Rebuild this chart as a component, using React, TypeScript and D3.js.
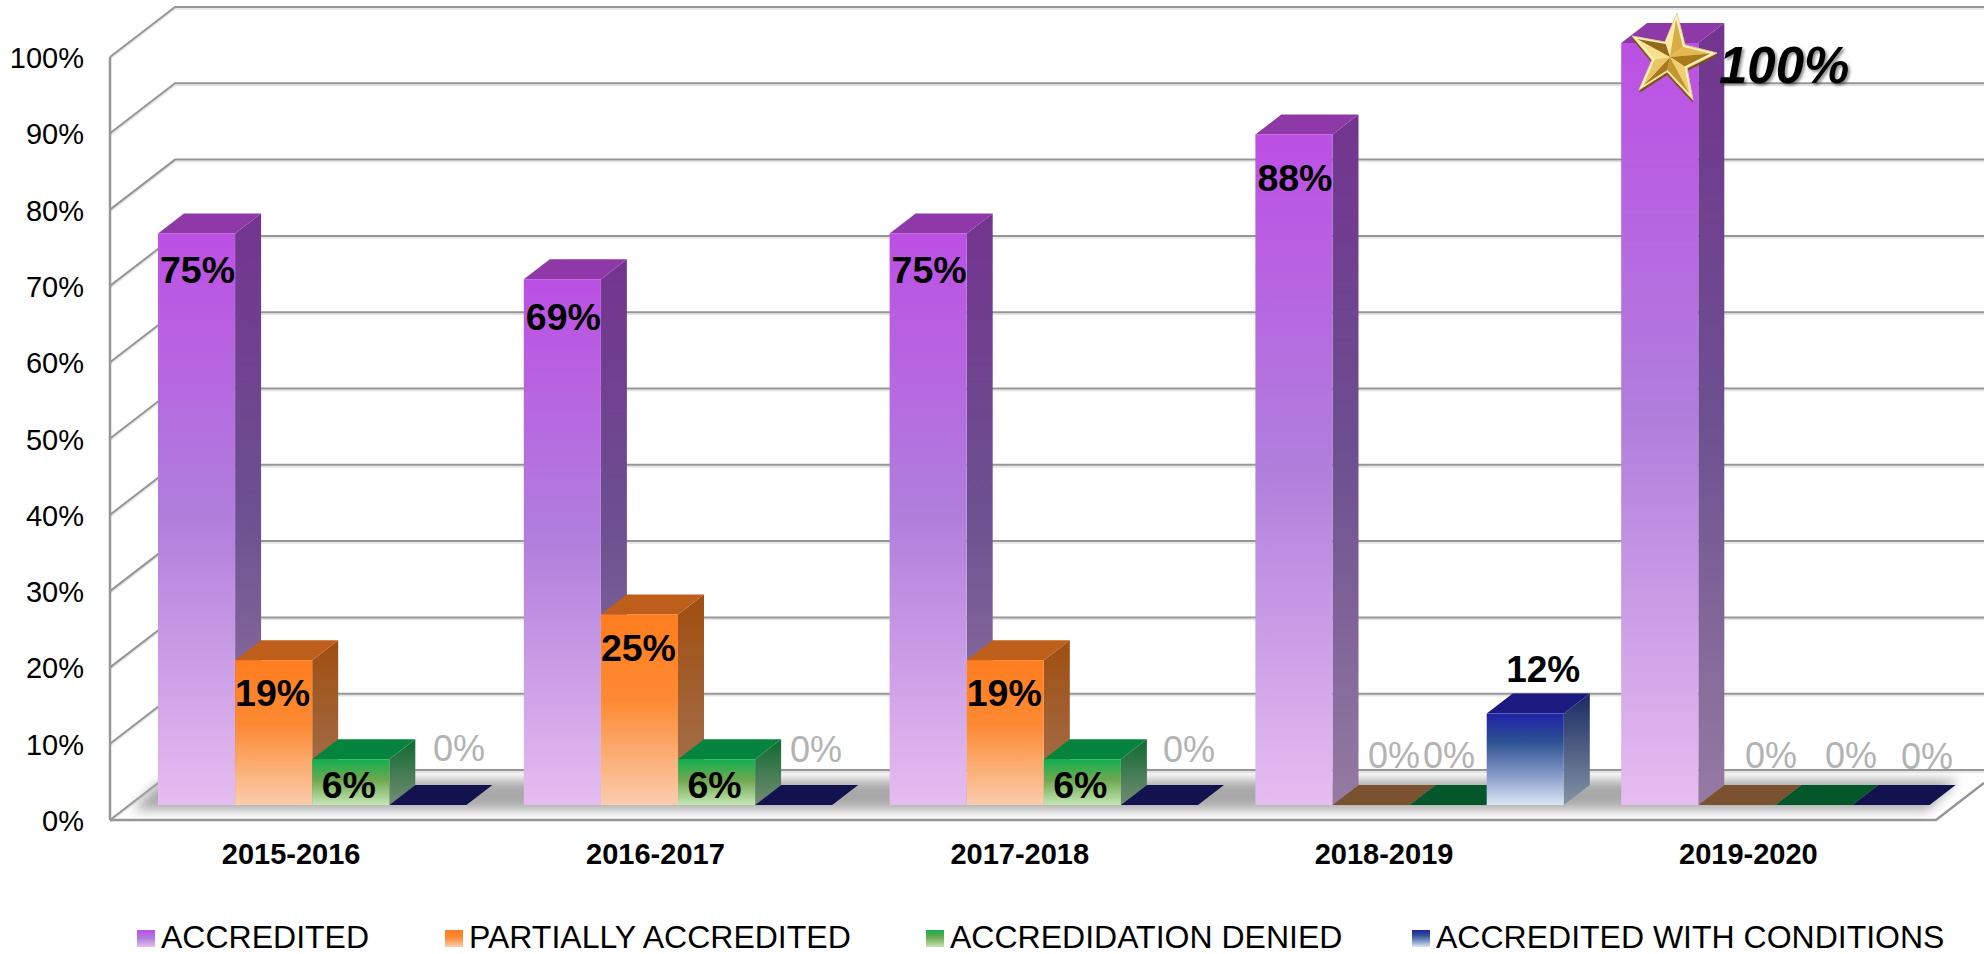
import React from "react";
import * as d3 from "d3";

const categories = ["2015-2016", "2016-2017", "2017-2018", "2018-2019", "2019-2020"];
const seriesNames = ["ACCREDITED", "PARTIALLY ACCREDITED", "ACCREDIDATION DENIED", "ACCREDITED WITH CONDITIONS"];
const accredited = [75, 69, 75, 88, 100];
const partiallyAccredited = [19, 25, 19, 0, 0];
const accreditationDenied = [6, 6, 6, 0, 0];
const accreditedWithConditions = [0, 0, 0, 12, 0];
const seriesValues = [accredited, partiallyAccredited, accreditationDenied, accreditedWithConditions];
const yTicks = [0, 10, 20, 30, 40, 50, 60, 70, 80, 90, 100];

type Tone = { id: string; front: [number, string][]; side: [number, string][]; top: string; flat: string };
const tones: Tone[] = [
  { id: "pur", front: [[0, "#bc50e4"], [0.5, "#b07fdc"], [1, "#e5bdf0"]], side: [[0, "#73348f"], [0.5, "#6c5090"], [1, "#957aa2"]], top: "#8f39a9", flat: "#8f39a9" },
  { id: "ora", front: [[0, "#ff7d1f"], [0.45, "#fd8a33"], [1, "#facdae"]], side: [[0, "#a04e0f"], [1, "#a37557"]], top: "#bd5f1b", flat: "#7a5230" },
  { id: "gre", front: [[0, "#10b050"], [0.45, "#6fa850"], [1, "#c4e6b4"]], side: [[0, "#0f6a30"], [1, "#748c74"]], top: "#06843e", flat: "#04572a" },
  { id: "blu", front: [[0, "#2222a8"], [0.3, "#2b5092"], [0.65, "#7f95c4"], [1, "#dde7f6"]], side: [[0, "#1a2a62"], [1, "#8494a6"]], top: "#1a1a80", flat: "#12124f" },
];

const font = "'Liberation Sans', Arial, sans-serif";
const W = 1984;
const H = 954;
const depthX = 26;
const depthY = 20;
const wallX = 65;
const wallY = 50;

const yFront = d3.scaleLinear().domain([0, 100]).range([820, 57]);
const yBar = d3.scaleLinear().domain([0, 100]).range([805, 43]);
const xGroup = d3.scaleBand<string>().domain(categories).range([130, 130 + 5 * 365.8]);
const xAxis = d3.scaleBand<string>().domain(categories).range([109, 1930.5]);
const xSeries = d3.scaleBand<string>().domain(seriesNames).range([28, 28 + 4 * 77.1]);

// Placement of the grey zero labels: centre x and lift above the floor line
const zeroLabelSpots: Record<string, [number, number]> = {
  "0-3": [459, 44],
  "1-3": [816, 43],
  "2-3": [1189, 43],
  "3-1": [1394, 37],
  "3-2": [1449, 37],
  "4-1": [1771, 37],
  "4-2": [1851, 37],
  "4-3": [1927, 36],
};
const accreditedLabelDrop = [49, 51, 49, 57];

const pts = (p: [number, number][]) => p.map((q) => q.join(",")).join(" ");

function Star() {
  const c: [number, number] = [1670, 57];
  const tips: [number, number][] = [[1677, 13], [1717, 53], [1693, 100], [1639, 90], [1632, 36]];
  const inner: [number, number][] = [[1685, 45], [1687, 68], [1667, 72], [1652, 60], [1665, 42]];
  const light = ["#fbe9a6", "#e3b950", "#f0cf72", "#a87a1e", "#f8e08e"];
  const dark = ["#d9ac45", "#a87a1c", "#c4952f", "#e8c565", "#94691a"];
  const outline: [number, number][] = [];
  tips.forEach((t, i) => { outline.push(t, inner[i]); });
  return (
    <g>
      <polygon points={pts(outline.map(([x, y]) => [x, y + 3]))} fill="#7a520c" />
      <polygon points={pts(outline)} fill="#fdf2c4" stroke="#e8d08a" strokeWidth={1} />
      {tips.map((t, i) => {
        const prev = inner[(i + 4) % 5];
        const next = inner[i];
        const sh = (p: [number, number]): [number, number] => [c[0] + (p[0] - c[0]) * 0.86, c[1] + (p[1] - c[1]) * 0.86];
        return (
          <g key={i}>
            <polygon points={pts([c, sh(prev), sh(t)])} fill={light[i]} />
            <polygon points={pts([c, sh(t), sh(next)])} fill={dark[i]} />
          </g>
        );
      })}
    </g>
  );
}

export default function App() {
  const bw = xSeries.bandwidth();
  return (
    <svg width={W} height={H} viewBox={`0 0 ${W} ${H}`} style={{ position: "absolute", left: 0, top: 0, display: "block", background: "#fff" }} fontFamily={font}>
      <defs>
        {tones.map((t) => (
          <React.Fragment key={t.id}>
            <linearGradient id={`${t.id}-f`} x1="0" y1="0" x2="0" y2="1">
              {t.front.map(([o, c]) => <stop key={o} offset={o} stopColor={c} />)}
            </linearGradient>
            <linearGradient id={`${t.id}-s`} x1="0" y1="0" x2="0" y2="1">
              {t.side.map(([o, c]) => <stop key={o} offset={o} stopColor={c} />)}
            </linearGradient>
          </React.Fragment>
        ))}
        <filter id="floorBlur" x="-5%" y="-60%" width="110%" height="220%"><feGaussianBlur stdDeviation="6" /></filter>
        <filter id="txtShadow" x="-10%" y="-20%" width="120%" height="140%"><feDropShadow dx="2" dy="2" stdDeviation="1.6" floodColor="#000" floodOpacity="0.45" /></filter>
      </defs>

      {/* wall + floor frame */}
      {yTicks.map((t) => {
        const y = yFront(t);
        return (
          <g key={t} fill="none">
            <polyline points={pts([[110, y + 2], [110 + wallX, y - wallY + 2], [W, y - wallY + 2]])} stroke="#e2e2e2" strokeWidth={1.5} />
            <polyline points={pts([[110, y], [110 + wallX, y - wallY], [W, y - wallY]])} stroke="#969696" strokeWidth={2} />
            <text x={84} y={y + 11} fontSize={29} fill="#000" stroke="none" textAnchor="end">{`${t}%`}</text>
          </g>
        );
      })}
      <line x1={110} x2={110} y1={yFront(100)} y2={yFront(0)} stroke="#969696" strokeWidth={2.5} />

      {/* floor */}
      <polygon points={pts([[132, 810], [1928, 810], [1958, 780], [162, 780]])} fill="#a8a8a8" filter="url(#floorBlur)" />
      <polyline points={pts([[110, 820], [1936, 820], [1984, 783]])} fill="none" stroke="#969696" strokeWidth={2.5} />

      {/* bars */}
      {categories.map((cat, gi) => (
        <g key={cat}>
          {seriesNames.map((s, si) => {
            const v = seriesValues[si][gi];
            const x0 = (xGroup(cat) as number) + (xSeries(s) as number);
            const x1 = x0 + bw;
            const y1 = yBar(0);
            const y0 = yBar(v);
            const tone = tones[si];
            if (v === 0) {
              return <polygon key={s} points={pts([[x0, y1], [x1, y1], [x1 + depthX, y1 - depthY], [x0 + depthX, y1 - depthY]])} fill={tone.flat} />;
            }
            return (
              <g key={s}>
                <polygon points={pts([[x1, y0], [x1 + depthX, y0 - depthY], [x1 + depthX, y1 - depthY], [x1, y1]])} fill={`url(#${tone.id}-s)`} />
                <polygon points={pts([[x0, y0], [x0 + depthX, y0 - depthY], [x1 + depthX, y0 - depthY], [x1, y0]])} fill={tone.top} />
                <rect x={x0} y={y0} width={bw} height={y1 - y0} fill={`url(#${tone.id}-f)`} />
              </g>
            );
          })}
        </g>
      ))}

      {/* data labels */}
      {categories.map((cat, gi) =>
        seriesNames.map((s, si) => {
          const v = seriesValues[si][gi];
          const x0 = (xGroup(cat) as number) + (xSeries(s) as number);
          const cx = x0 + bw / 2;
          if (v === 0) {
            const spot = zeroLabelSpots[`${gi}-${si}`];
            if (!spot) return null;
            return (
              <text key={s} x={spot[0]} y={yBar(0) - spot[1]} fontSize={36} fill="#b3b3b3" textAnchor="middle">{`${v}%`}</text>
            );
          }
          if (v === 100) {
            return (
              <text key={s} x={1719} y={83} fontSize={51} fontWeight="bold" fontStyle="italic" fill="#000" filter="url(#txtShadow)">{`${v}%`}</text>
            );
          }
          if (si === 3) {
            return <text key={s} x={cx + 18} y={yBar(v) - 32} fontSize={37} fontWeight="bold" fill="#000" textAnchor="middle">{`${v}%`}</text>;
          }
          const below = si === 0 ? accreditedLabelDrop[gi] : si === 1 ? 46 : 39;
          return (
            <text key={s} x={cx + (si === 0 ? 1 : si === 1 ? -1 : -2)} y={yBar(v) + below} fontSize={37.5} fontWeight="bold" fill="#000" textAnchor="middle">{`${v}%`}</text>
          );
        })
      )}

      <Star />

      {/* category labels */}
      {categories.map((c) => (
        <text key={c} x={(xAxis(c) as number) + xAxis.bandwidth() / 2} y={864} fontSize={29} fontWeight="bold" fill="#000" textAnchor="middle">{c}</text>
      ))}

      {/* legend */}
      {seriesNames.map((s, i) => {
        const lx = [137, 445, 926, 1412][i];
        return (
          <g key={s}>
            <rect x={lx} y={930} width={18} height={17} fill={`url(#${tones[i].id}-f)`} />
            <text x={lx + 24} y={948} fontSize={32} fill="#000">{s}</text>
          </g>
        );
      })}
    </svg>
  );
}
